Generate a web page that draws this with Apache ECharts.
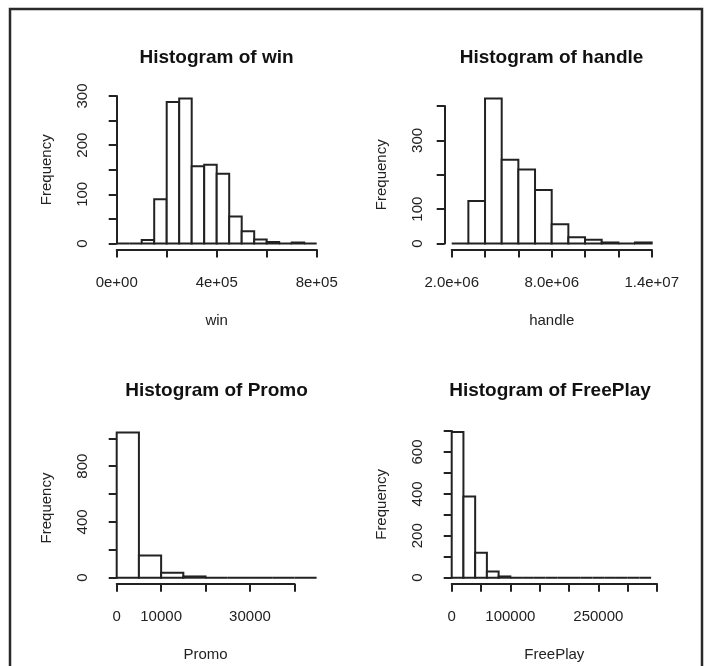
<!DOCTYPE html>
<html>
<head>
<meta charset="utf-8">
<script src="https://cdn.jsdelivr.net/npm/echarts@6/dist/echarts.min.js"></script>
<style>
  html, body { margin: 0; padding: 0; background: #fff; }
  #chart { width: 708px; height: 666px; }
</style>
</head>
<body>
<div id="chart"></div>
<script>
// histogram bin edges and counts
const winEdges = [0, 50000, 100000, 150000, 200000, 250000, 300000, 350000, 400000,
  450000, 500000, 550000, 600000, 650000, 700000, 750000, 800000];
const winCounts = [0, 0, 7, 90, 288, 295, 157, 160, 142, 55, 25, 8, 3, 0, 2, 0];

const handleEdges = [2e6, 3e6, 4e6, 5e6, 6e6, 7e6, 8e6, 9e6, 10e6, 11e6, 12e6, 13e6, 14e6];
const handleCounts = [0, 124, 422, 244, 215, 156, 56, 18, 11, 3, 0, 3];

const promoEdges = [0, 5000, 10000, 15000, 20000, 25000, 30000, 35000, 40000, 45000];
const promoCounts = [1042, 160, 36, 9, 0, 0, 0, 0, 0];

const freePlayEdges = [0, 20000, 40000, 60000, 80000, 100000, 120000, 140000, 160000,
  180000, 200000, 220000, 240000, 260000, 280000, 300000, 320000, 340000];
const freePlayCounts = [695, 387, 119, 29, 6, 0, 0, 0, 0, 0, 0, 0, 0, 0, 0, 0, 0];

// labelled ticks (R drops the ones that would overlap)
const winXLabelValues = [0, 400000, 800000];
const winXLabels = ['0e+00', '4e+05', '8e+05'];
const handleXLabelValues = [2e6, 8e6, 14e6];
const handleXLabels = ['2.0e+06', '8.0e+06', '1.4e+07'];
const promoXLabelValues = [0, 10000, 30000];
const promoXLabels = ['0', '10000', '30000'];
const freePlayXLabelValues = [0, 100000, 250000];
const freePlayXLabels = ['0', '100000', '250000'];

const winYLabels = [0, 100, 200, 300];
const handleYLabels = [0, 100, 300];
const promoYLabels = [0, 400, 800];
const freePlayYLabels = [0, 200, 400, 600];

const INK = '#222';
const FONT = '"Liberation Sans", Arial, sans-serif';

const panels = [
  {
    title: 'Histogram of win', xName: 'win', edges: winEdges, counts: winCounts,
    xMin: 0, xMax: 800000, xStep: 200000, xLabelValues: winXLabelValues, xLabels: winXLabels,
    yMax: 300, yStep: 50, yLabels: winYLabels,
    grid: { left: 116.7, top: 96, width: 200, height: 147.5 }, titleX: 216.5, titleTop: 48,
  },
  {
    title: 'Histogram of handle', xName: 'handle', edges: handleEdges, counts: handleCounts,
    xMin: 2e6, xMax: 14e6, xStep: 2e6, xLabelValues: handleXLabelValues, xLabels: handleXLabels,
    yMax: 400, yStep: 100, yLabels: handleYLabels,
    grid: { left: 451.7, top: 106, width: 200, height: 137.5 }, titleX: 551.5, titleTop: 48,
  },
  {
    title: 'Histogram of Promo', xName: 'Promo', edges: promoEdges, counts: promoCounts,
    xMin: 0, xMax: 40000, xStep: 10000, xLabelValues: promoXLabelValues, xLabels: promoXLabels,
    yMax: 1000, yStep: 200, yLabels: promoYLabels,
    grid: { left: 116.7, top: 438.3, width: 177.7, height: 139.4 }, titleX: 216.5, titleTop: 381,
  },
  {
    title: 'Histogram of FreePlay', xName: 'FreePlay', edges: freePlayEdges, counts: freePlayCounts,
    xMin: 0, xMax: 350000, xStep: 50000, xLabelValues: freePlayXLabelValues, xLabels: freePlayXLabels,
    yMax: 700, yStep: 100, yLabels: freePlayYLabels,
    grid: { left: 451.7, top: 431, width: 205.3, height: 146.7 }, titleX: 550, titleTop: 381,
  },
];

function histRect(params, api) {
  const p0 = api.coord([api.value(0), api.value(2)]);
  const p1 = api.coord([api.value(1), 0]);
  return {
    type: 'rect',
    shape: { x: p0[0], y: p0[1], width: p1[0] - p0[0], height: p1[1] - p0[1] },
    style: { fill: '#fff', stroke: INK, lineWidth: 2 },
  };
}

const lineStyle = { color: INK, width: 2 };
const option = {
  backgroundColor: '#fff',
  animation: false,
  title: [],
  grid: [],
  xAxis: [],
  yAxis: [],
  series: [],
  graphic: [{
    type: 'rect',
    shape: { x: 10, y: 9, width: 692, height: 700 },
    style: { fill: 'none', stroke: '#2a2a2a', lineWidth: 2.5 },
  }],
};

panels.forEach((p, i) => {
  option.title.push({
    text: p.title, left: p.titleX, top: p.titleTop, textAlign: 'center', padding: 0,
    textStyle: { fontFamily: FONT, fontSize: 19, fontWeight: 'bold', color: '#111' },
  });
  option.grid.push({ ...p.grid, containLabel: false });
  option.xAxis.push({
    gridIndex: i, type: 'value', min: p.xMin, max: p.xMax, interval: p.xStep,
    position: 'bottom', offset: 6,
    name: p.xName, nameLocation: 'middle', nameGap: 64,
    nameTextStyle: { fontFamily: FONT, fontSize: 15, color: INK },
    axisLine: { show: true, onZero: false, lineStyle },
    axisTick: { show: true, length: 8, lineStyle },
    axisLabel: {
      margin: 26, fontFamily: FONT, fontSize: 15, color: INK,
      formatter: v => {
        const k = p.xLabelValues.indexOf(v);
        return k >= 0 ? p.xLabels[k] : '';
      },
    },
    splitLine: { show: false },
  });
  option.yAxis.push({
    gridIndex: i, type: 'value', min: 0, max: p.yMax, interval: p.yStep,
    position: 'left', offset: 7,
    name: 'Frequency', nameLocation: 'middle', nameGap: 55, nameRotate: 90,
    nameTextStyle: { fontFamily: FONT, fontSize: 15, color: INK },
    axisLine: { show: true, lineStyle },
    axisTick: { show: true, length: 8, lineStyle },
    axisLabel: {
      margin: 19, rotate: 90, fontFamily: FONT, fontSize: 15, color: INK,
      formatter: v => (p.yLabels.includes(v) ? String(v) : ''),
    },
    splitLine: { show: false },
  });
  option.series.push({
    type: 'custom',
    xAxisIndex: i,
    yAxisIndex: i,
    clip: false,
    renderItem: histRect,
    encode: { x: [0, 1], y: 2 },
    data: p.counts.map((c, k) => [p.edges[k], p.edges[k + 1], c]),
  });
});

const chart = echarts.init(document.getElementById('chart'));
chart.setOption(option);
</script>
</body>
</html>
